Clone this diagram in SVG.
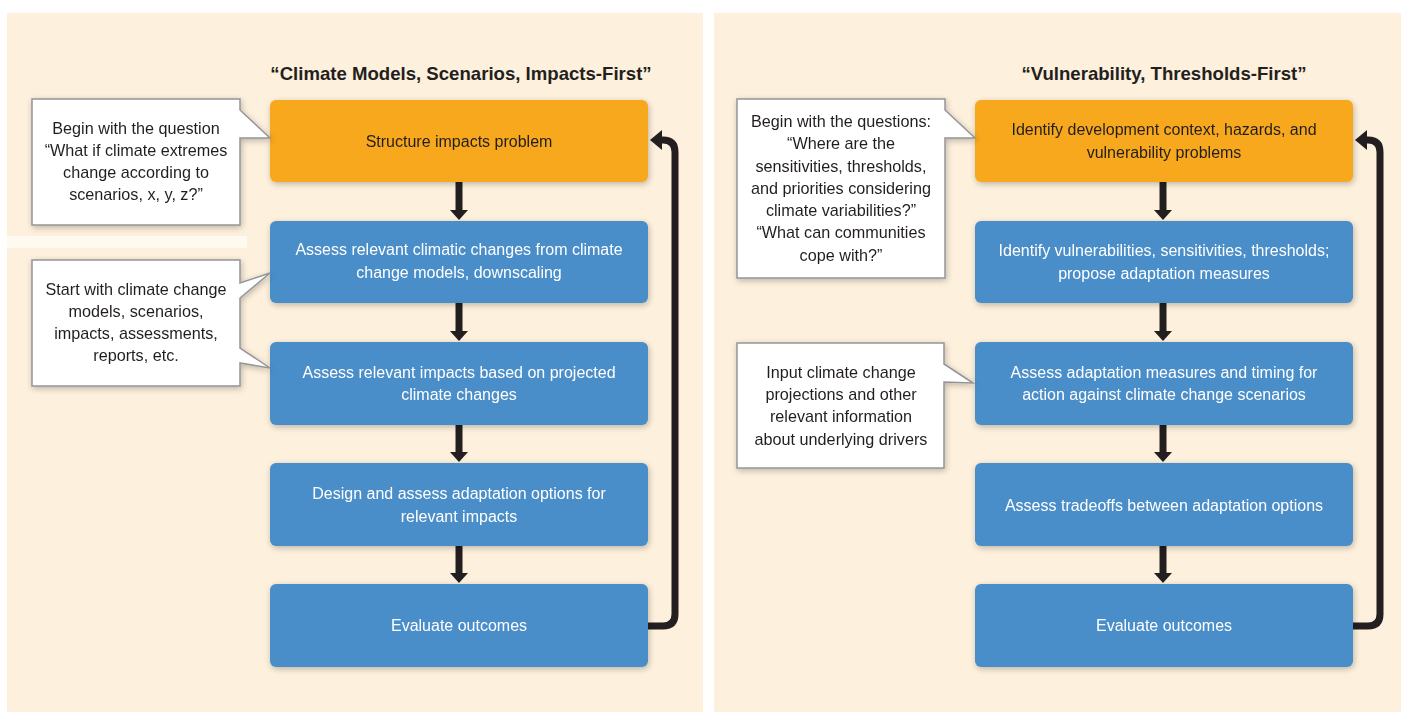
<svg xmlns="http://www.w3.org/2000/svg" width="1403" height="713" viewBox="0 0 1403 713">
<defs>
<filter id="sh" x="-10%" y="-10%" width="125%" height="130%">
<feGaussianBlur in="SourceAlpha" stdDeviation="3"/>
<feOffset dx="1" dy="2" result="b"/>
<feComponentTransfer><feFuncA type="linear" slope="0.25"/></feComponentTransfer>
<feMerge><feMergeNode/><feMergeNode in="SourceGraphic"/></feMerge>
</filter>
</defs>
<style>
.panel{fill:#FDF0DC}
.orange{fill:#F7A81C}
.blue{fill:#4A8DC9}
.call{fill:#FFFFFF;stroke:#939598;stroke-width:1.5}
.t{font-family:"Liberation Sans",Arial,sans-serif;font-size:16px;text-anchor:middle}
.dark{fill:#231F20}
.white{fill:#FFFFFF}
.title{font-family:"Liberation Sans",Arial,sans-serif;font-size:18.6px;font-weight:bold;text-anchor:middle;fill:#231F20}
.ct{font-family:"Liberation Sans",Arial,sans-serif;font-size:16.2px;text-anchor:middle;fill:#231F20}
.shaft{stroke:#231F20;stroke-width:7;fill:none}
.head{fill:#231F20}
.loop{stroke:#231F20;stroke-width:7;fill:none}
</style>
<rect x="0" y="0" width="1403" height="713" fill="#FFFFFF"/>
<rect class="panel" x="7" y="13" width="696" height="699"/>
<rect class="panel" x="714" y="13" width="687" height="699"/>
<rect x="7" y="236" width="240" height="12" fill="#FFFAF0"/>

<text class="title" x="461" y="80">“Climate Models, Scenarios, Impacts-First”</text>
<text class="title" x="1164" y="80">“Vulnerability, Thresholds-First”</text>

<g id="connectors">
<line class="shaft" x1="459" y1="182" x2="459" y2="211"/><polygon class="head" points="450,210 468,210 459,220"/>
<line class="shaft" x1="459" y1="303" x2="459" y2="332"/><polygon class="head" points="450,331 468,331 459,341"/>
<line class="shaft" x1="459" y1="425" x2="459" y2="453"/><polygon class="head" points="450,452 468,452 459,462"/>
<line class="shaft" x1="459" y1="546" x2="459" y2="574"/><polygon class="head" points="450,573 468,573 459,583"/>
<path class="loop" d="M648 626 H663 Q675 626 675 614 V152 Q675 140 663 140 H659"/>
<polygon class="head" points="650,140 662,130 662,150"/>
<line class="shaft" x1="1163" y1="182" x2="1163" y2="211"/><polygon class="head" points="1154,210 1172,210 1163,220"/>
<line class="shaft" x1="1163" y1="303" x2="1163" y2="332"/><polygon class="head" points="1154,331 1172,331 1163,341"/>
<line class="shaft" x1="1163" y1="425" x2="1163" y2="453"/><polygon class="head" points="1154,452 1172,452 1163,462"/>
<line class="shaft" x1="1163" y1="546" x2="1163" y2="574"/><polygon class="head" points="1154,573 1172,573 1163,583"/>
<path class="loop" d="M1353 626 H1368 Q1380 626 1380 614 V152 Q1380 140 1368 140 H1364"/>
<polygon class="head" points="1355,140 1367,130 1367,150"/>
</g>

<g id="L1" filter="url(#sh)"><rect class="orange" x="270" y="100" width="378" height="82" rx="6"/>
<text class="t dark" x="459" y="147">Structure impacts problem</text></g>
<g id="L2" filter="url(#sh)"><rect class="blue" x="270" y="221" width="378" height="82" rx="6"/>
<text class="t white" x="459" y="255">Assess relevant climatic changes from climate</text>
<text class="t white" x="459" y="278">change models, downscaling</text></g>
<g id="L3" filter="url(#sh)"><rect class="blue" x="270" y="342" width="378" height="83" rx="6"/>
<text class="t white" x="459" y="378">Assess relevant impacts based on projected</text>
<text class="t white" x="459" y="400">climate changes</text></g>
<g id="L4" filter="url(#sh)"><rect class="blue" x="270" y="463" width="378" height="83" rx="6"/>
<text class="t white" x="459" y="499">Design and assess adaptation options for</text>
<text class="t white" x="459" y="522">relevant impacts</text></g>
<g id="L5" filter="url(#sh)"><rect class="blue" x="270" y="584" width="378" height="83" rx="6"/>
<text class="t white" x="459" y="631">Evaluate outcomes</text></g>

<g id="R1" filter="url(#sh)"><rect class="orange" x="975" y="100" width="378" height="82" rx="6"/>
<text class="t dark" x="1164" y="135">Identify development context, hazards, and</text>
<text class="t dark" x="1164" y="158">vulnerability problems</text></g>
<g id="R2" filter="url(#sh)"><rect class="blue" x="975" y="221" width="378" height="82" rx="6"/>
<text class="t white" x="1164" y="256">Identify vulnerabilities, sensitivities, thresholds;</text>
<text class="t white" x="1164" y="279">propose adaptation measures</text></g>
<g id="R3" filter="url(#sh)"><rect class="blue" x="975" y="342" width="378" height="83" rx="6"/>
<text class="t white" x="1164" y="378">Assess adaptation measures and timing for</text>
<text class="t white" x="1164" y="400">action against climate change scenarios</text></g>
<g id="R4" filter="url(#sh)"><rect class="blue" x="975" y="463" width="378" height="83" rx="6"/>
<text class="t white" x="1164" y="511">Assess tradeoffs between adaptation options</text></g>
<g id="R5" filter="url(#sh)"><rect class="blue" x="975" y="584" width="378" height="83" rx="6"/>
<text class="t white" x="1164" y="631">Evaluate outcomes</text></g>

<g id="CL1" filter="url(#sh)">
<path class="call" d="M32 99 H240 V110 L270 138 L240 138 V225 H32 Z"/>
<text class="ct" x="136" y="134">Begin with the question</text>
<text class="ct" x="136" y="156">“What if climate extremes</text>
<text class="ct" x="136" y="178">change according to</text>
<text class="ct" x="136" y="200">scenarios, x, y, z?”</text>
</g>
<g id="CL2" filter="url(#sh)">
<path class="call" d="M32 260 H240 V283 L270 273 L240 298 V348 L270 368 L240 363 V386 H32 Z"/>
<text class="ct" x="136" y="295">Start with climate change</text>
<text class="ct" x="136" y="317">models, scenarios,</text>
<text class="ct" x="136" y="339">impacts, assessments,</text>
<text class="ct" x="136" y="361">reports, etc.</text>
</g>
<g id="CR1" filter="url(#sh)">
<path class="call" d="M737 99 H945 V110 L975 138 L945 138 V278 H737 Z"/>
<text class="ct" x="841" y="127">Begin with the questions:</text>
<text class="ct" x="841" y="149">“Where are the</text>
<text class="ct" x="841" y="172">sensitivities, thresholds,</text>
<text class="ct" x="841" y="194">and priorities considering</text>
<text class="ct" x="841" y="216">climate variabilities?”</text>
<text class="ct" x="841" y="238">“What can communities</text>
<text class="ct" x="841" y="261">cope with?”</text>
</g>
<g id="CR2" filter="url(#sh)">
<path class="call" d="M737 343 H944 V364 L973 383 L944 382 V468 H737 Z"/>
<text class="ct" x="841" y="378">Input climate change</text>
<text class="ct" x="841" y="400">projections and other</text>
<text class="ct" x="841" y="422">relevant information</text>
<text class="ct" x="841" y="445">about underlying drivers</text>
</g>
</svg>
